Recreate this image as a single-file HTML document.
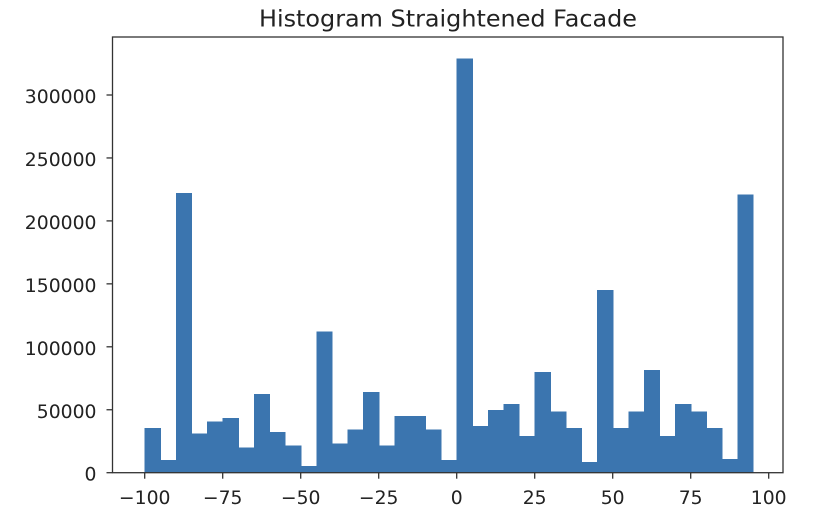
<!DOCTYPE html>
<html><head><meta charset="utf-8"><style>
body{margin:0;background:#fff;}
svg{display:block;font-family:"DejaVu Sans","Liberation Sans",sans-serif;}
</style></head><body>
<svg id="chart" width="818" height="522" viewBox="0 0 818 522" xmlns="http://www.w3.org/2000/svg">
<text x="448" y="26.5" font-size="23.5" text-anchor="middle" fill="#222" textLength="378" lengthAdjust="spacingAndGlyphs">Histogram Straightened Facade</text>
<g id="bars" shape-rendering="crispEdges"></g>
<g id="axes"></g>
</svg>
<script>
const binStarts = [-100,-95,-90,-85,-80,-75,-70,-65,-60,-55,-50,-45,-40,-35,-30,-25,-20,-15,-10,-5,0,5,10,15,20,25,30,35,40,45,50,55,60,65,70,75,80,85,90];
const counts = [35500,10000,222000,31000,40500,43500,20000,62500,32500,21500,5300,112000,23000,34500,64000,21500,45000,45000,34500,10100,329000,37000,50000,54500,29000,80000,48500,35500,8500,145000,35500,48500,81500,29000,54500,48500,35500,11000,221000];
const binWidth = 5;
const xTicks = [-100,-75,-50,-25,0,25,50,75,100];
const xTickLabels = ["\u2212100","\u221275","\u221250","\u221225","0","25","50","75","100"];
const yTicks = [0,50000,100000,150000,200000,250000,300000];
const yTickLabels = ["0","50000","100000","150000","200000","250000","300000"];

const L=112.5,R=783,T=37,B=472.7;
const xs=v=>456.7+v*3.12;
const ys=v=>B-v*(B-95)/300000;
const NS="http://www.w3.org/2000/svg";
const bars=document.getElementById('bars'), axes=document.getElementById('axes');
function mk(tag,attrs,parent){const e=document.createElementNS(NS,tag);for(const k in attrs)e.setAttribute(k,attrs[k]);parent.appendChild(e);return e;}
counts.forEach((c,i)=>{
  const x0=xs(binStarts[i]),x1=xs(binStarts[i]+binWidth);
  const r=mk('rect',{x:x0,y:ys(c),width:x1-x0+0.6,height:B-ys(c),fill:'#3b75af'},bars);
  
  
});
const frame=mk('rect',{x:L,y:T,width:R-L,height:B-T,fill:'none',stroke:'#333','stroke-width':1.3},axes);


xTicks.forEach((v,i)=>{
  const x=xs(v);
  mk('line',{x1:x,x2:x,y1:B,y2:B+6,stroke:'#333','stroke-width':1.3},axes);
  const t=mk('text',{x:x,y:504,'font-size':18.8,'text-anchor':'middle',fill:'#222'},axes);
  t.textContent=xTickLabels[i];
  
  
});
yTicks.forEach((v,i)=>{
  const y=ys(v);
  mk('line',{x1:L-6,x2:L,y1:y,y2:y,stroke:'#333','stroke-width':1.3},axes);
  const t=mk('text',{x:96.5,y:y+8,'font-size':18.8,'text-anchor':'end',fill:'#222'},axes);
  t.textContent=yTickLabels[i];
  
  
});
</script>
</body></html>
